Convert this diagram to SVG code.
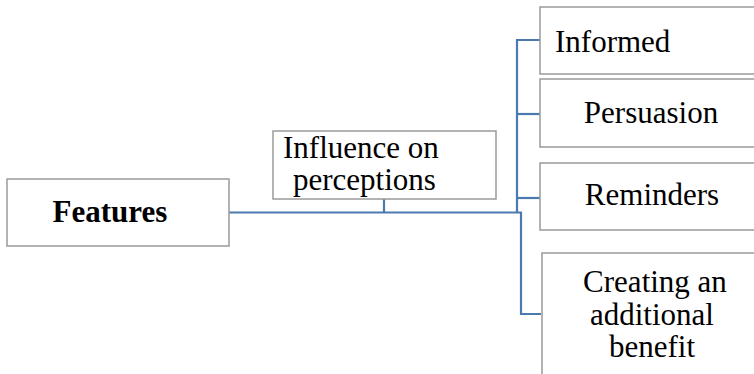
<svg xmlns="http://www.w3.org/2000/svg" width="754" height="374" viewBox="0 0 754 374">
<style>
.box{fill:#fff;stroke:#9a9a9a;stroke-width:1.5}
.t{font-family:"Liberation Serif","Times New Roman",serif;font-size:31px;fill:#000}
.c{text-anchor:middle}
.b{font-weight:bold}
.ln{fill:none;stroke:#4a7ab0;stroke-width:2.2}
</style>
<rect width="754" height="374" fill="#fff"/>
<g id="connectors">
<path class="ln" d="M229 212.5H521V314H541"/>
<path class="ln" d="M384 199V212.5"/>
<path class="ln" d="M517 212.5V40H540"/>
<path class="ln" d="M517 114H540"/>
<path class="ln" d="M517 198H540"/>
</g>
<g id="features">
<rect class="box" x="7" y="179" width="222" height="67"/>
<text class="t b c" x="110" y="222">Features</text>
</g>
<g id="influence">
<rect class="box" x="273" y="131" width="223" height="68"/>
<text class="t" x="283" y="158">Influence on</text>
<text class="t" x="293" y="190">perceptions</text>
</g>
<g id="informed">
<rect class="box" x="540" y="7" width="230" height="67"/>
<text class="t" x="555" y="52">Informed</text>
</g>
<g id="persuasion">
<rect class="box" x="540" y="79" width="230" height="68"/>
<text class="t c" x="651" y="123">Persuasion</text>
</g>
<g id="reminders">
<rect class="box" x="540" y="163" width="230" height="67"/>
<text class="t c" x="652" y="205">Reminders</text>
</g>
<g id="benefit">
<rect class="box" x="542" y="253" width="230" height="140"/>
<text class="t c" x="655" y="292">Creating an</text>
<text class="t c" x="652" y="325">additional</text>
<text class="t c" x="652" y="357">benefit</text>
</g>
</svg>
